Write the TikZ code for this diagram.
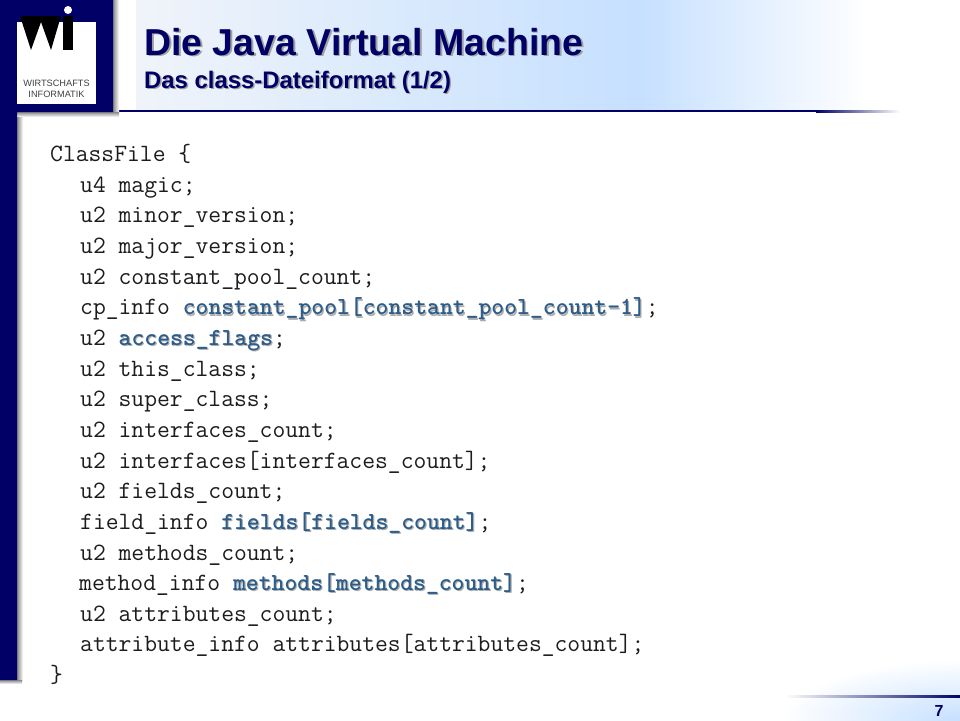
\documentclass[tikz,border=0pt]{standalone}
\usepackage{fontspec}
\setmainfont{Liberation Sans}
\usetikzlibrary{positioning}
\definecolor{wiNavy}{HTML}{000066}
\definecolor{wiSky}{HTML}{C6E0FF}
\definecolor{wiPale}{HTML}{F0F4FA}
\definecolor{wiCode}{HTML}{2B5C8A}
\definecolor{wiShadow}{HTML}{8A8A8A}
\definecolor{wiText}{HTML}{1C1C1C}
\newcommand{\hlcode}[1]{{\bfseries\fontsize{24.5}{26}\selectfont\rlap{\hskip1.2pt\raisebox{-1.2pt}{\textcolor{wiShadow!70}{#1}}}\textcolor{wiCode}{#1}}}
\newcommand{\shadowtext}[2]{\rlap{\hskip#2\raisebox{-#2}{\textcolor{wiShadow!80}{#1}}}\textcolor{wiNavy}{#1}}
\tikzset{codeline/.style={anchor=base west,inner sep=0pt,font=\ttfamily\fontsize{24.9}{26}\selectfont,text=wiText},
titleline/.style={anchor=base west,inner sep=0pt,font=\bfseries\fontsize{37.5}{40}\selectfont},
subtitleline/.style={anchor=base west,inner sep=0pt,font=\bfseries\fontsize{23.9}{28}\selectfont},
logotext/.style={inner sep=0pt,font=\fontsize{9.2}{10.8}\selectfont,text=black!75,align=center}}

\begin{document}
\begin{tikzpicture}[x=1pt,y=-1pt]
\useasboundingbox (0,0) rectangle (960,720);
\fill[white] (0,0) rectangle (960,720);

% header and footer
\shade[left color=wiPale,right color=wiSky] (136,0) rectangle (640,110);
\shade[left color=wiSky,right color=white] (640,0) rectangle (868,110);
\begin{scope}
\clip (780,660) rectangle (960,720);
\shade[inner color=wiSky,outer color=white] (960,720) ellipse (180 and 60);
\end{scope}
\fill[wiNavy] (112,110) rectangle (816,112);
\shade[left color=wiNavy,right color=white] (816,110) rectangle (900,112);
\shade[left color=white,right color=wiNavy] (785,695.5) rectangle (960,697.5);

% shadows
\shade[left color=wiShadow,right color=white] (113,0) rectangle (119,112);
\shade[top color=wiShadow,bottom color=white] (16,112) rectangle (119,117);
\shade[left color=wiShadow,right color=white] (17,117) rectangle (23,680);
\shade[top color=wiShadow,bottom color=white] (0,680) rectangle (22,684);

% navy bar
\fill[wiNavy] (0,0) -- (113,0) -- (113,112) -- (17,112) -- (17,680) -- (0,680) -- cycle;

% logo
\fill[white] (17,22) rectangle (96,104);
\fill[black] (20,16) -- (31,50) -- (41,22) -- (51,50) -- (61,16) -- cycle;
\fill[black] (63,16) rectangle (73,50);
\fill[white] (68,10) circle (4);
\node[logotext] (logoname) at (56.5,88.5) {WIRTSCHAFTS\\INFORMATIK};

% title
\node[titleline] (title) at (144,55) {\shadowtext{Die Java Virtual Machine}{1.8pt}};
\node[subtitleline] (subtitle) at (144,88) {\shadowtext{Das class-Dateiformat (1/2)}{1.4pt}};

% code
\node[codeline] (l0) at (50,161.5) {ClassFile \{};
\node[codeline] (l1) at (80,192.1) {u4 magic;};
\node[codeline] (l2) at (80,222.8) {u2 minor\_version;};
\node[codeline] (l3) at (80,253.5) {u2 major\_version;};
\node[codeline] (l4) at (80,284.1) {u2 constant\_pool\_count;};
\node[codeline] (l5) at (80,314.8) {cp\_info \hlcode{constant\_pool[constant\_pool\_count-1]};};
\node[codeline] (l6) at (80,345.4) {u2 \hlcode{access\_flags};};
\node[codeline] (l7) at (80,376.1) {u2 this\_class;};
\node[codeline] (l8) at (80,406.7) {u2 super\_class;};
\node[codeline] (l9) at (80,437.4) {u2 interfaces\_count;};
\node[codeline] (l10) at (80,468) {u2 interfaces[interfaces\_count];};
\node[codeline] (l11) at (80,498.7) {u2 fields\_count;};
\node[codeline] (l12) at (80,529.3) {field\_info \hlcode{fields[fields\_count]};};
\node[codeline] (l13) at (80,560) {u2 methods\_count;};
\node[codeline] (l14) at (79,590.6) {method\_info \hlcode{methods[methods\_count]};};
\node[codeline] (l15) at (80,621.3) {u2 attributes\_count;};
\node[codeline] (l16) at (80,651.9) {attribute\_info attributes[attributes\_count];};
\node[codeline] (l17) at (50,682.5) {\}};

% page number
\node[inner sep=0pt,anchor=base,font=\bfseries\fontsize{16}{18}\selectfont,text=wiNavy] (pagenum) at (939,716) {7};
\end{tikzpicture}
\end{document}
